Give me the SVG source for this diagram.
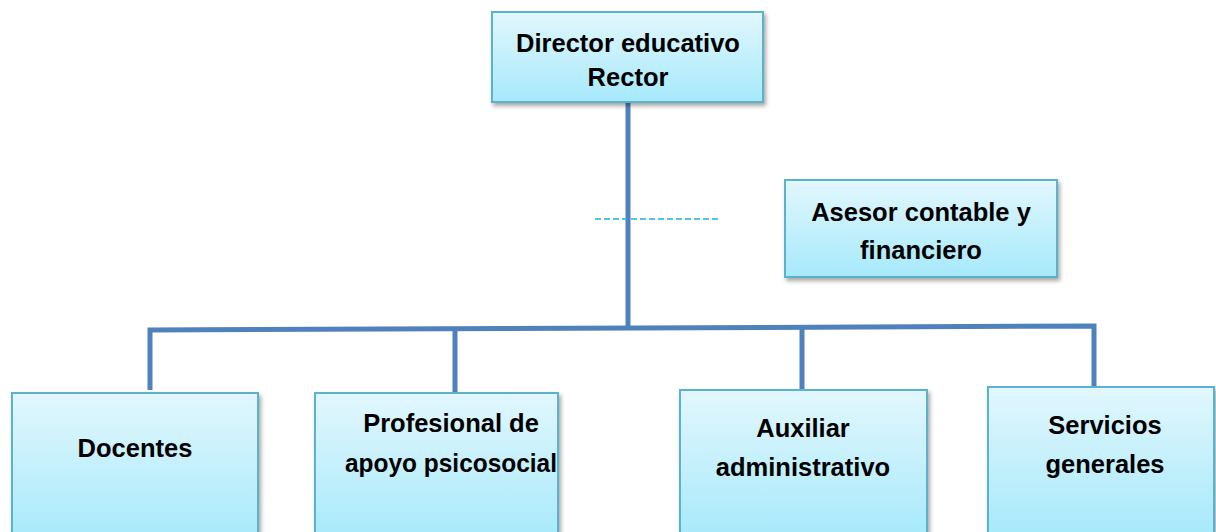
<svg xmlns="http://www.w3.org/2000/svg" width="1216" height="532" viewBox="0 0 1216 532">
<defs>
<linearGradient id="g" x1="0" y1="0" x2="0" y2="1">
<stop offset="0" stop-color="#e2f7fd"/>
<stop offset="1" stop-color="#a6e9fb"/>
</linearGradient>
<filter id="sh" x="-10%" y="-10%" width="130%" height="130%">
<feDropShadow dx="2" dy="3" stdDeviation="2" flood-color="#000" flood-opacity="0.35"/>
</filter>
<style>
.box{fill:url(#g);stroke:#5ab3cb;stroke-width:2;filter:url(#sh)}
.t{font-family:"Liberation Sans",Arial,sans-serif;font-weight:bold;font-size:25.5px;fill:#000;text-anchor:middle}
.c{stroke:#4f81bd;stroke-width:5;fill:none}
</style>
</defs>
<rect width="1216" height="532" fill="#fff"/>
<g id="connectors">
<line class="c" x1="628" y1="102" x2="628" y2="328"/>
<path class="c" d="M150 390 L150 330 L1094 326 L1094 388"/>
<line class="c" x1="455" y1="329" x2="455" y2="393"/>
<line class="c" x1="802" y1="328" x2="802" y2="390"/>
<line x1="595" y1="219" x2="720" y2="219" stroke="#1fb0ea" stroke-width="1.5" stroke-dasharray="6,3"/>
</g>
<g id="director">
<rect class="box" x="492" y="12" width="271" height="90"/>
<text class="t" x="628" y="52">Director educativo</text>
<text class="t" x="628" y="86">Rector</text>
</g>
<g id="asesor">
<rect class="box" x="785" y="180" width="272" height="97"/>
<text class="t" x="921" y="221">Asesor contable y</text>
<text class="t" x="921" y="259">financiero</text>
</g>
<g id="docentes">
<rect class="box" x="12" y="393" width="246" height="150"/>
<text class="t" x="135" y="457">Docentes</text>
</g>
<g id="profesional">
<rect class="box" x="315" y="393" width="243" height="150"/>
<text class="t" x="451" y="432">Profesional de</text>
<text class="t" x="451" y="472" textLength="212" lengthAdjust="spacingAndGlyphs">apoyo psicosocial</text>
</g>
<g id="auxiliar">
<rect class="box" x="680" y="390" width="247" height="150"/>
<text class="t" x="803" y="437">Auxiliar</text>
<text class="t" x="803" y="476">administrativo</text>
</g>
<g id="servicios">
<rect class="box" x="988" y="387" width="226" height="150"/>
<text class="t" x="1105" y="434">Servicios</text>
<text class="t" x="1105" y="473">generales</text>
</g>
</svg>
